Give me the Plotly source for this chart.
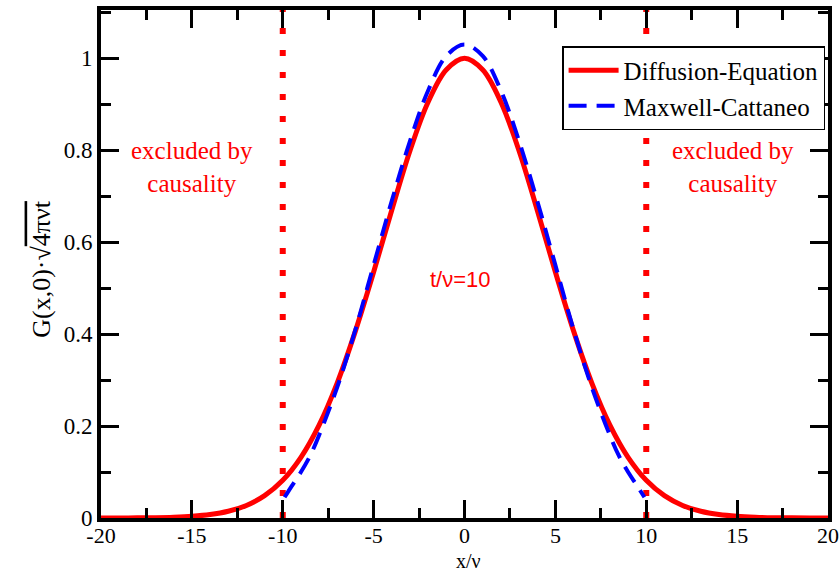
import plotly.graph_objects as go

# Diffusion equation curve
x_diff = [-20, -19, -18, -17, -16, -15, -14, -13, -12, -11, -10, -9, -8, -7, -6, -5, -4, -3, -2, -1,
          0, 1, 2, 3, 4, 5, 6, 7, 8, 9, 10, 11, 12, 13, 14, 15, 16, 17, 18, 19, 20]
y_diff = [0.0, 0.0001, 0.0003, 0.0007, 0.0017, 0.0036, 0.0074, 0.0146, 0.0273, 0.0486, 0.082, 0.132,
          0.202, 0.294, 0.407, 0.535, 0.670, 0.799, 0.905, 0.975,
          1.0, 0.975, 0.905, 0.799, 0.670, 0.535, 0.407, 0.294, 0.202, 0.132, 0.082, 0.0486,
          0.0273, 0.0146, 0.0074, 0.0036, 0.0017, 0.0007, 0.0003, 0.0001, 0.0]

# Maxwell-Cattaneo curve
x_mc = [-9.9, -9.5, -9, -8.5, -8, -7, -6, -5, -4, -3, -2, -1, 0, 1, 2, 3, 4, 5, 6, 7, 8, 8.5, 9, 9.5, 9.9]
y_mc = [0.045, 0.07, 0.10, 0.135, 0.18, 0.285, 0.41, 0.55, 0.69, 0.82, 0.93, 1.005, 1.03,
        1.005, 0.93, 0.82, 0.69, 0.55, 0.41, 0.285, 0.18, 0.135, 0.10, 0.07, 0.045]

causal_x = [-10, 10]
x_tickvals = [-20, -15, -10, -5, 0, 5, 10, 15, 20]
x_ticktext = ["-20", "-15", "-10", "-5", "0", "5", "10", "15", "20"]
y_tickvals = [0, 0.2, 0.4, 0.6, 0.8, 1.0]
y_ticktext = ["0", "0.2", "0.4", "0.6", "0.8", "1"]

SERIF = "Liberation Serif"
SANS = "Liberation Sans"

fig = go.Figure()

for cx in causal_x:
    fig.add_trace(go.Scatter(x=[cx, cx], y=[0, 1.105], mode="lines",
                             line=dict(color="#ff0000", width=6, dash="6px,16px"),
                             showlegend=False, hoverinfo="skip"))

fig.add_trace(go.Scatter(x=x_diff, y=y_diff, mode="lines", name="Diffusion-Equation",
                         line=dict(color="#ff0000", width=5, shape="spline")))
fig.add_trace(go.Scatter(x=x_mc, y=y_mc, mode="lines", name="Maxwell-Cattaneo",
                         line=dict(color="#0000ff", width=4, dash="18px,10px", shape="spline")))

fig.add_annotation(x=-15, y=0.763, text="excluded by<br>causality", showarrow=False,
                   font=dict(family=SERIF, size=25, color="#ff0000"))
fig.add_annotation(x=14.8, y=0.763, text="excluded by<br>causality", showarrow=False,
                   font=dict(family=SERIF, size=25, color="#ff0000"))
fig.add_annotation(x=-0.2, y=0.518, text="t/ν=10", showarrow=False,
                   font=dict(family=SANS, size=22, color="#ff0000"))

# axis titles
fig.add_annotation(xref="paper", yref="paper", x=0.505, y=-0.085, text="x/ν", showarrow=False,
                   xanchor="center", yanchor="middle",
                   font=dict(family=SERIF, size=20, color="black"))
fig.add_annotation(xref="paper", yref="paper", x=-0.083, y=0.49,
                   text="G(x,0)·√<span style='text-decoration:overline'>4πνt</span>",
                   showarrow=False, textangle=-90, xanchor="center", yanchor="middle",
                   font=dict(family=SERIF, size=26, color="black"))

axis_common = dict(showline=True, linecolor="black", linewidth=4, mirror="ticks",
                   ticks="inside", tickwidth=3, ticklen=18, tickcolor="black",
                   showgrid=False, zeroline=False, automargin=False, layer="above traces")

fig.update_xaxes(range=[-20, 20], tickmode="array", tickvals=x_tickvals, ticktext=x_ticktext,
                 ticklabelstandoff=-5, tickfont=dict(family=SERIF, size=22, color="black"),
                 minor=dict(tickmode="linear", tick0=-20, dtick=2.5, ticks="inside",
                            ticklen=10, tickwidth=3, tickcolor="black"),
                 **axis_common)
fig.update_yaxes(range=[0, 1.105], tickmode="array", tickvals=y_tickvals, ticktext=y_ticktext,
                 tickfont=dict(family=SERIF, size=23, color="black"),
                 minor=dict(tickmode="linear", tick0=0, dtick=0.1, ticks="inside",
                            ticklen=10, tickwidth=3, tickcolor="black"),
                 **axis_common)

fig.update_layout(
    width=840, height=569,
    margin=dict(l=101, r=12, t=10, b=51),
    plot_bgcolor="white", paper_bgcolor="white",
    legend=dict(x=0.996, y=0.929, xanchor="right", yanchor="top",
                bordercolor="black", borderwidth=1.5, bgcolor="white",
                font=dict(family=SERIF, size=25, color="black"),
                tracegroupgap=0, itemwidth=50),
)

fig.write_html("out.html", config={"displayModeBar": False},
               post_script="document.body.style.margin='0';")
